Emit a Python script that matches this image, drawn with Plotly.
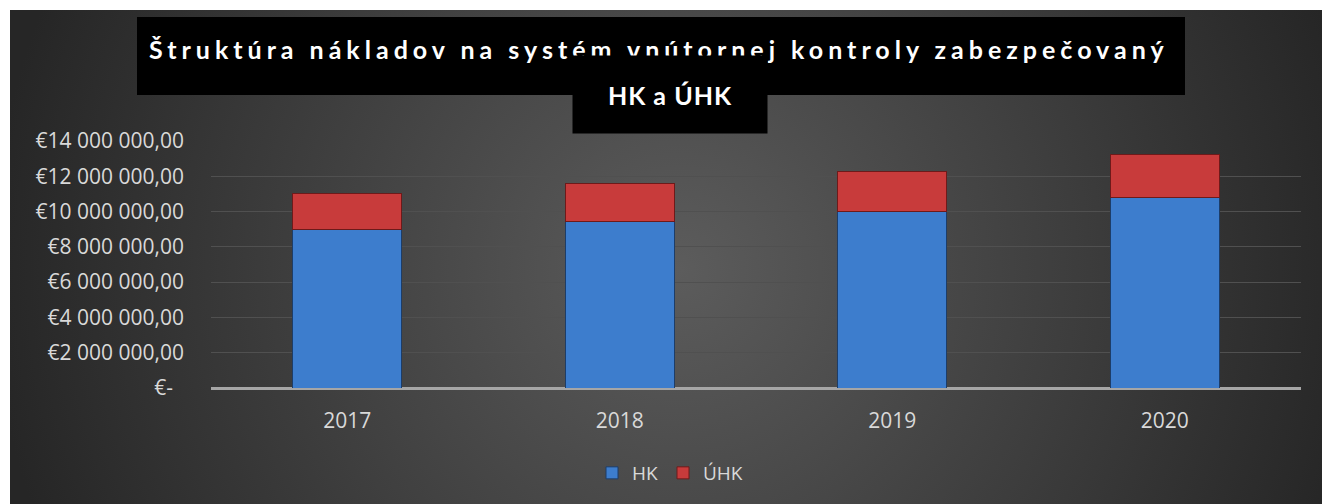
import base64
import plotly.graph_objects as go

years = ["2017", "2018", "2019", "2020"]
hk = [8970000, 9420000, 9990000, 10780000]
uhk = [2060000, 2180000, 2270000, 2470000]
y_tickvals = [0, 2000000, 4000000, 6000000, 8000000, 10000000, 12000000, 14000000]
y_ticktext = ["€-\u00a0\u00a0", "€2 000 000,00", "€4 000 000,00", "€6 000 000,00",
              "€8 000 000,00", "€10 000 000,00", "€12 000 000,00", "€14 000 000,00"]
title_line1 = "Štruktúra nákladov na systém vnútornej kontroly zabezpečovaný"
title_line2 = "HK a ÚHK"

W, H = 1322, 504
L, R, T, B = 211, 21, 141, 116
PW, PH = W - L - R, H - T - B


def px(x):  # pixel -> paper x
    return (x - L) / PW


def py(y):  # pixel -> paper y
    return (H - B - y) / PH


svg = ("<svg xmlns='http://www.w3.org/2000/svg' width='1312' height='494' viewBox='0 0 1312 494' preserveAspectRatio='none'>"
       "<defs><radialGradient id='g' gradientUnits='userSpaceOnUse' cx='670' cy='260' r='690'>"
       "<stop offset='0' stop-color='#5c5c5c'/><stop offset='1' stop-color='#262626'/>"
       "</radialGradient></defs><rect width='1312' height='494' fill='url(#g)'/></svg>")
src = "data:image/svg+xml;base64," + base64.b64encode(svg.encode()).decode()

fig = go.Figure()
fig.add_trace(go.Bar(x=years, y=hk, name="HK",
                     marker=dict(color="#3d7dcd", line=dict(color="#1d3d68", width=1))))
fig.add_trace(go.Bar(x=years, y=uhk, name="ÚHK",
                     marker=dict(color="#c83b3b", line=dict(color="#6e1a1a", width=1))))

fig.update_layout(
    width=W, height=H,
    margin=dict(l=L, r=R, t=T, b=B),
    barmode="stack", bargap=0.6,
    paper_bgcolor="white", plot_bgcolor="rgba(0,0,0,0)",
    font=dict(family="Open Sans", color="#d9d9d9", size=21),
    showlegend=True,
    legend=dict(orientation="h", traceorder="normal", x=px(670), xanchor="center",
                y=py(473), yanchor="middle", itemwidth=30,
                font=dict(size=19, color="#d9d9d9"), bgcolor="rgba(0,0,0,0)"),
    images=[dict(source=src, xref="paper", yref="paper", x=px(10), y=py(10),
                 sizex=1312 / PW, sizey=494 / PH, sizing="stretch",
                 xanchor="left", yanchor="top", layer="below")],
)
fig.update_xaxes(showgrid=False, showline=False, zeroline=False, ticks="",
                 ticklabelstandoff=18, tickfont=dict(size=21, color="#d9d9d9"))
fig.update_yaxes(range=[0, 14000000], tickvals=y_tickvals, ticktext=y_ticktext,
                 showgrid=True, gridcolor="#505050", gridwidth=1,
                 zeroline=True, zerolinecolor="#a6a6a6", zerolinewidth=3,
                 showline=False, ticks="", ticklabelstandoff=26,
                 tickfont=dict(size=21, color="#d9d9d9"))

fig.add_shape(type="rect", xref="paper", yref="paper",
              x0=px(137), x1=px(1185), y0=py(95), y1=py(17),
              fillcolor="black", line=dict(width=0), layer="above")
fig.add_annotation(text="<span style='letter-spacing:5px'><b>" + title_line1 + "</b></span>",
                   xref="paper", yref="paper",
                   x=px(659), y=py(49), xanchor="center", yanchor="middle", showarrow=False,
                   font=dict(family="Lato", size=25, color="white"))
fig.add_annotation(text="<span style='letter-spacing:1px'><b>" + title_line2 + "</b></span>",
                   xref="paper", yref="paper",
                   x=px(670), y=py(94.5), xanchor="center", yanchor="middle", showarrow=False,
                   width=194, height=77, bgcolor="black", borderpad=0,
                   font=dict(family="Lato", size=25, color="white"))

fig.write_html("out.html", config={"displayModeBar": False}, post_script=(
    "document.body.style.margin='0';"
    "document.body.style.overflow='hidden';"
    "document.documentElement.style.overflow='hidden';"))
